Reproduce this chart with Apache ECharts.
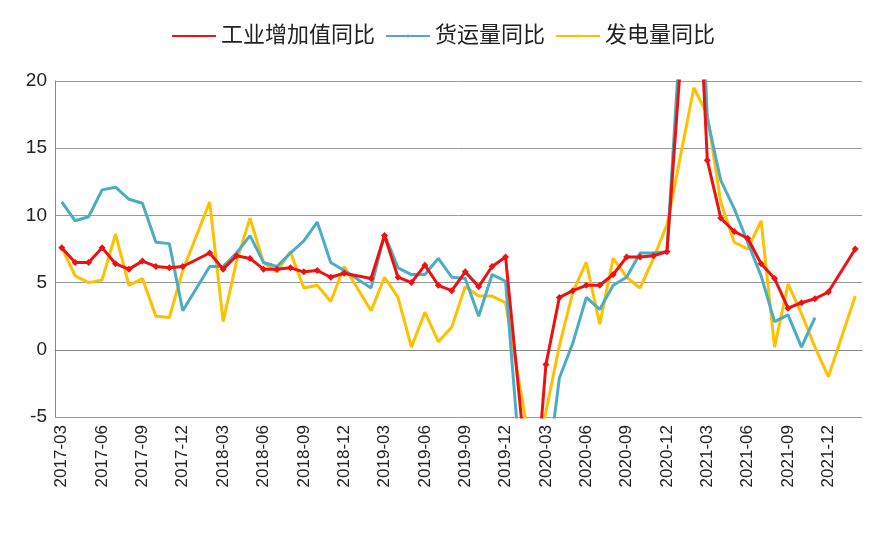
<!DOCTYPE html>
<html><head><meta charset="utf-8">
<script src="https://cdn.jsdelivr.net/npm/echarts@6/dist/echarts.min.js"></script>
<style>html,body{margin:0;padding:0;background:#fff}#c{width:886px;height:540px}</style>
</head><body><div id="c"></div>
<script>
const categories = [];
for (let y = 2017; y <= 2022; y++) for (let m = 1; m <= 12; m++) {
  if ((y === 2017 && m < 3) || (y === 2022 && m > 2)) continue;
  categories.push(y + '-' + String(m).padStart(2, '0'));
}
const industry = [7.6,6.5,6.5,7.6,6.4,6.0,6.6,6.2,6.1,6.2,
 null,7.2,6.0,7.0,6.8,6.0,6.0,6.1,5.8,5.9,5.4,5.7,
 null,5.3,8.5,5.4,5.0,6.3,4.8,4.4,5.8,4.7,6.2,6.9,
 null,-13.5,-1.1,3.9,4.4,4.8,4.8,5.6,6.9,6.9,7.0,7.3,
 null,35.1,14.1,9.8,8.8,8.3,6.4,5.3,3.1,3.5,3.8,4.3,
 null,7.5];
const freight = [11.0,9.6,9.9,11.9,12.1,11.2,10.9,8.0,7.9,2.9,
 null,6.2,6.2,7.2,8.5,6.5,6.2,7.2,8.1,9.5,6.5,5.9,
 null,4.6,8.6,6.1,5.6,5.6,6.8,5.4,5.3,2.5,5.6,5.1,
 null,-20.0,-10.0,-2.1,0.5,3.9,3.0,4.8,5.4,7.2,7.2,7.3,
 null,40.0,17.2,12.6,10.5,8.0,5.5,2.1,2.6,0.2,2.4,null,
 null,null];
const power = [7.6,5.5,5.0,5.2,8.6,4.8,5.3,2.5,2.4,5.9,
 null,11.0,2.1,6.6,9.8,6.5,5.8,7.3,4.6,4.8,3.6,6.2,
 null,2.9,5.4,3.9,0.2,2.8,0.6,1.7,4.7,4.0,4.0,3.5,
 null,-8.2,-4.6,0.3,4.3,6.5,1.9,6.8,5.4,4.6,6.8,9.3,
 null,19.5,17.5,11.0,8.0,7.5,9.6,0.2,4.9,2.7,0.2,-2.0,
 null,4.0];
const names = ['工业增加值同比','货运量同比','发电量同比'];
const chart = echarts.init(document.getElementById('c'));
const font = 'Liberation Sans, Noto Sans CJK SC, sans-serif';
chart.setOption({
  animation:false,
  textStyle:{fontFamily:font},
  legend:{top:20,left:'center',itemGap:10,itemWidth:44,itemHeight:4,
    textStyle:{fontSize:22,color:'#222',fontFamily:font},data:names},
  grid:{left:55,right:24,top:81,bottom:123,containLabel:false},
  xAxis:{type:'category',data:categories,boundaryGap:true,
    axisLine:{lineStyle:{color:'#888'}},axisTick:{show:false},
    axisLabel:{interval:2,rotate:90,fontSize:17,color:'#222'}},
  yAxis:{type:'value',min:-5,max:20,interval:5,
    axisLine:{show:true,lineStyle:{color:'#888'}},
    axisLabel:{fontSize:19,color:'#222'},
    splitLine:{lineStyle:{color:'#999'}}},
  series:[
    {name:names[0],type:'line',data:industry,connectNulls:true,symbol:'diamond',symbolSize:7,
     itemStyle:{color:'#ee1111'},lineStyle:{width:3,color:'#ee1111'},z:3},
    {name:names[1],type:'line',data:freight,connectNulls:true,showSymbol:false,symbol:'none',
     itemStyle:{color:'#4bacc6'},lineStyle:{width:3,color:'#4bacc6'},z:2},
    {name:names[2],type:'line',data:power,connectNulls:true,showSymbol:false,symbol:'none',
     itemStyle:{color:'#ffc000'},lineStyle:{width:3,color:'#ffc000'},z:1}
  ]
});
</script></body></html>
